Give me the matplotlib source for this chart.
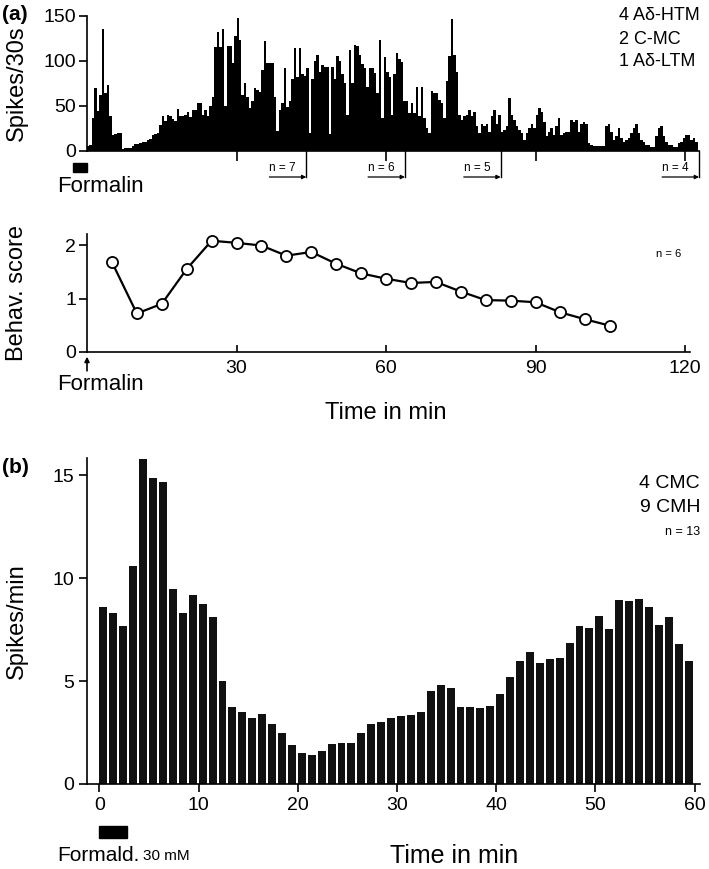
import numpy as np
import matplotlib
matplotlib.use('Agg')
import matplotlib.pyplot as plt
from matplotlib.patches import Rectangle

plt.rcParams['font.family'] = ['Liberation Sans', 'DejaVu Sans']
NARROW = ['Liberation Sans Narrow', 'Liberation Sans', 'DejaVu Sans']

# (a) spikes per 30 s bin, time 0..122.5 min
spikes30 = [
    5, 6, 36, 70, 44, 62, 136, 64, 73, 38,
    17, 18, 20, 20, 2, 3, 3, 3, 5, 7,
    7, 8, 9, 10, 12, 13, 17, 18, 20, 28,
    38, 33, 40, 38, 35, 33, 46, 38, 38, 40,
    43, 37, 45, 45, 53, 53, 40, 45, 39, 50,
    60, 115, 132, 115, 135, 50, 117, 117, 98, 128,
    148, 123, 62, 75, 60, 47, 55, 70, 68, 65,
    90, 122, 98, 98, 98, 60, 22, 45, 53, 92,
    48, 55, 80, 114, 82, 114, 85, 83, 92, 20,
    80, 100, 106, 88, 95, 93, 93, 18, 93, 80,
    105, 100, 85, 75, 40, 112, 75, 118, 117,
    107, 97, 92, 71, 92, 92, 86, 64, 123, 36,
    104, 88, 82, 40, 85, 109, 102, 99, 55, 55,
    42, 53, 42, 71, 38, 71, 36, 25, 20, 66,
    64, 64, 56, 53, 36, 77, 105, 147, 107, 88,
    40, 34, 38, 40, 45, 38, 43, 27, 19, 29,
    27, 30, 21, 38, 45, 29, 40, 21, 23, 27,
    58, 40, 34, 27, 23, 19, 12, 19, 25, 30,
    25, 40, 47, 43, 32, 16, 21, 25, 17, 27,
    36, 17, 19, 21, 21, 34, 32, 34, 21, 30,
    32, 29, 8, 6, 5, 5, 5, 5, 5, 27,
    30, 21, 12, 16, 25, 14, 10, 12, 14, 19,
    25, 29, 19, 12, 10, 6, 6, 4, 4, 16,
    25, 27, 16, 10, 6, 6, 4, 4, 8, 10,
    14, 17, 17, 12, 14, 10,
]
bin_min = 0.5

# number of units still recorded (label, end of interval in min)
n_labels = ['n = 7', 'n = 6', 'n = 5', 'n = 4']
n_ends = [44.0, 63.8, 83.0, 122.8]

# behavioural score
behav_t = [5, 10, 15, 20, 25, 30, 35, 40, 45, 50, 55,
           60, 65, 70, 75, 80, 85, 90, 95, 100, 105]
behav_score = [1.68, 0.72, 0.90, 1.55, 2.08, 2.04, 1.99, 1.80, 1.87, 1.65, 1.47,
               1.37, 1.29, 1.31, 1.13, 0.97, 0.96, 0.93, 0.74, 0.61, 0.49]

# (b) spikes per min, 0..60 min
spikes_min = [8.6, 8.3, 7.7, 10.6, 15.8, 14.9, 14.7, 9.5, 8.3, 9.2,
              8.75, 8.1, 5.0, 3.75, 3.5, 3.2, 3.4, 2.9, 2.5, 1.9,
              1.5, 1.4, 1.6, 1.95, 2.0, 2.0, 2.5, 2.9, 3.0, 3.2,
              3.3, 3.35, 3.5, 4.5, 4.8, 4.65, 3.75, 3.75, 3.7, 3.8,
              4.4, 5.2, 6.0, 6.4, 5.9, 6.1, 6.15, 6.85, 7.7, 7.6,
              8.15, 7.55, 8.95, 8.9, 9.0, 8.6, 7.75, 8.1, 6.8, 6.0]

W, H = 709, 869
fig = plt.figure(figsize=(W / 100, H / 100), dpi=100)


def rect(left, top, right, bottom):
    return [left / W, 1 - bottom / H, (right - left) / W, (bottom - top) / H]


def style(ax):
    for s in ('top', 'right'):
        ax.spines[s].set_visible(False)
    for s in ('left', 'bottom'):
        ax.spines[s].set_linewidth(1.2)
    for lab in ax.get_xticklabels() + ax.get_yticklabels():
        lab.set_family(NARROW)
        lab.set_fontsize(14)


# ---- (a) histogram
ax1 = fig.add_axes(rect(87, 16, 699, 150.5))
t30 = np.arange(len(spikes30)) * bin_min
ax1.bar(t30, spikes30, width=bin_min, align='edge', color='black', linewidth=0)
ax1.set_xlim(0, 122.8)
ax1.set_ylim(0, 150)
ax1.set_yticks([0, 50, 100, 150])
ax1.set_xticks([30, 60, 90, 120])
ax1.set_xticklabels([])
style(ax1)
ax1.tick_params(axis='y', length=6, width=1.2, pad=2)
ax1.tick_params(axis='x', length=7, width=1.2)
ax1.set_ylabel('Spikes/30s', fontsize=17)
ax1.yaxis.set_label_coords(-0.096, 0.5)
tr1 = ax1.get_xaxis_transform()
ax1.add_patch(Rectangle((-2.8, -0.16), 2.8, 0.07, transform=tr1,
                        color='black', clip_on=False))
ax1.text(-6.0, -0.27, 'Formalin', transform=tr1, fontsize=16, va='center', ha='left')
for lab, end in zip(n_labels, n_ends):
    ax1.plot([end, end], [0, -0.2], transform=tr1, color='black', lw=1, clip_on=False)
    ax1.annotate('', xy=(end, -0.197), xytext=(end - 7.4, -0.197),
                 xycoords=tr1, textcoords=tr1,
                 arrowprops=dict(arrowstyle='-|>', lw=0.9, color='black',
                                 mutation_scale=6, shrinkA=0, shrinkB=0))
    ax1.text(end - 7.4, -0.13, lab, transform=tr1, fontsize=8.5, va='center', ha='left')
for i, s in enumerate(['4 A\u03b4-HTM', '2 C-MC', '1 A\u03b4-LTM']):
    fig.text(619 / W, 1 - (16 + 23 * i) / H, s, fontsize=13, ha='left', va='center')
fig.text(2 / W, 1 - 14 / H, '(a)', fontsize=15, fontweight='bold', va='center')

# ---- (a) behavioural score
ax2 = fig.add_axes(rect(87, 234.3, 690, 352))
ax2.plot(behav_t, behav_score, '-o', color='black', lw=1.6, ms=8,
         mfc='white', mec='black', mew=1.3, clip_on=False)
ax2.set_xlim(0, 121)
ax2.set_ylim(0, 2.2)
ax2.set_yticks([0, 1, 2])
ax2.set_xticks([30, 60, 90, 120])
style(ax2)
ax2.tick_params(axis='y', length=6, width=1.2, pad=2)
ax2.tick_params(axis='x', length=5, width=1.2, direction='in', pad=6)
ax2.set_ylabel('Behav. score', fontsize=17)
ax2.yaxis.set_label_coords(-0.098, 0.5)
tr2 = ax2.get_xaxis_transform()
ax2.annotate('', xy=(0, -0.04), xytext=(0, -0.16), xycoords=tr2, textcoords=tr2,
             arrowprops=dict(arrowstyle='-|>', lw=1.2, color='black',
                             mutation_scale=7, shrinkA=0, shrinkB=0))
ax2.text(-6.0, -0.28, 'Formalin', transform=tr2, fontsize=16, va='center', ha='left')
ax2.text(60, -0.52, 'Time in min', transform=tr2, fontsize=17, va='center', ha='center',
         family=NARROW)
ax2.text(0.985, 0.83, 'n = 6', transform=ax2.transAxes, fontsize=8, ha='right', va='center')

# ---- (b) spikes per minute
ax3 = fig.add_axes(rect(87, 458, 700, 784))
ax3.bar(np.arange(len(spikes_min)), spikes_min, width=0.8, align='edge',
        color='#111111', linewidth=0)
ax3.set_xlim(-1.26, 60.55)
ax3.set_ylim(0, 15.85)
ax3.set_yticks([0, 5, 10, 15])
ax3.set_xticks(range(0, 61, 10))
style(ax3)
ax3.tick_params(length=6, width=1.2, pad=3)
ax3.set_ylabel('Spikes/min', fontsize=17)
ax3.yaxis.set_label_coords(-0.096, 0.5)
tr3 = ax3.get_xaxis_transform()
ax3.add_patch(Rectangle((0, -0.165), 2.8, 0.035, transform=tr3,
                        color='black', clip_on=False))
ax3.text(-4.3, -0.22, 'Formald.', transform=tr3, fontsize=15, va='center', ha='left',
         family=NARROW)
ax3.text(4.4, -0.22, '30 mM', transform=tr3, fontsize=11, va='center', ha='left',
         family=NARROW)
ax3.text(35.8, -0.22, 'Time in min', transform=tr3, fontsize=18, va='center', ha='center',
         family=NARROW)
fig.text(700 / W, 1 - 483 / H, '4 CMC', fontsize=14, ha='right', va='center', family=NARROW)
fig.text(700 / W, 1 - 508 / H, '9 CMH', fontsize=14, ha='right', va='center', family=NARROW)
fig.text(700 / W, 1 - 532 / H, 'n = 13', fontsize=9, ha='right', va='center', family=NARROW)
fig.text(2 / W, 1 - 468 / H, '(b)', fontsize=15, fontweight='bold', va='center')

fig.savefig('out.png', dpi=100)
